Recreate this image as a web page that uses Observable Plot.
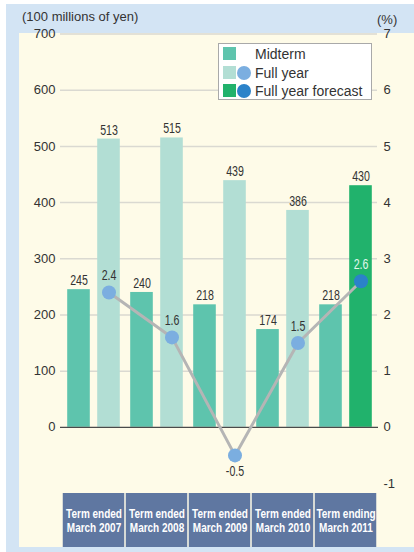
<!DOCTYPE html>
<html>
<head>
<meta charset="utf-8">
<script src="https://cdn.jsdelivr.net/npm/d3@7"></script>
<script src="https://cdn.jsdelivr.net/npm/@observablehq/plot@0.6"></script>
<style>
  body { margin: 0; background: #fff; }
  #root { position: relative; width: 414px; height: 552px; overflow: hidden; font-family: "Liberation Sans", Arial, sans-serif; color: #333; }
  .abs { position: absolute; }
  .unit { position: absolute; font-size: 13px; line-height: 13px; white-space: nowrap; }
  #legend { position: absolute; left: 218px; top: 43px; width: 152px; height: 55px; background: #fff; border: 1px solid #a9a9a9; }
  .row { position: absolute; left: 0; height: 18px; width: 150px; }
  .sw { position: absolute; left: 4px; top: 2px; width: 13px; height: 13px; }
  .dotsw { position: absolute; left: 18px; top: 2px; width: 14px; height: 14px; border-radius: 50%; }
  .lab { position: absolute; left: 36px; top: 0; font-size: 14px; line-height: 18px; white-space: nowrap; color: #333; }
</style>
</head>
<body>
<div id="root">
  <div class="abs" style="left:6px;top:4px;width:408px;height:548px;background:#d3e4f4"></div>
  <div class="abs" style="left:19px;top:33px;width:395px;height:514px;background:#fefbe8"></div>
  <div class="unit" style="left:22px;top:10px">(100 millions of yen)</div>
  <div class="unit" style="left:377px;top:13px">(%)</div>
  <div id="chart" class="abs" style="left:0;top:0"></div>
  <div id="terms" class="abs" style="left:0;top:493px"></div>
  <div id="legend"></div>
</div>
<script>
// Fiscal terms shown along the bottom
const terms = [
  "Term ended\nMarch 2007",
  "Term ended\nMarch 2008",
  "Term ended\nMarch 2009",
  "Term ended\nMarch 2010",
  "Term ending\nMarch 2011"
];
// Net sales, 100 millions of yen
const midterm = [245, 240, 218, 174, 218];
const fullYear = [513, 515, 439, 386, 430];
// The last term's full-year figures are a forecast
const isForecast = [false, false, false, false, true];
// Ratio, %
const rate = [2.4, 1.6, -0.5, 1.5, 2.6];
// Axis ticks
const yenTicks = [0, 100, 200, 300, 400, 500, 600, 700];
const pctTicks = [-1, 0, 1, 2, 3, 4, 5, 6, 7];

const colors = {
  midterm: "#5ec4ad",
  full: "#b2ded4",
  forecast: "#21b26c",
  dot: "#7baee0",
  dotForecast: "#2b82c9",
  line: "#b5b5b5",
  box: "#5f77a1"
};

// The % axis shares the yen scale: 1% is drawn as 100 units
const PCT = 100;

const rows = terms.map((term, i) => ({
  term,
  midterm: midterm[i],
  full: fullYear[i],
  forecast: isForecast[i],
  rate: rate[i]
}));

const W = 414, left = 61, right = 36;
const bw = (W - left - right) / terms.length;
const barW = 23, off = 15;
const sans = "'Liberation Sans', Arial, sans-serif";
const valSize = 14;

// Squeeze text horizontally about its own centre (condensed lettering)
function condense(svg, selector, factor) {
  d3.select(svg).selectAll(selector).each(function () {
    const b = this.getBBox();
    const cx = b.x + b.width / 2;
    const t = this.getAttribute("transform") || "";
    this.setAttribute("transform", `${t} translate(${cx},0) scale(${factor},1) translate(${-cx},0)`);
  });
}

const chart = Plot.plot({
  width: W,
  height: 493,
  marginLeft: left,
  marginRight: right,
  marginTop: 33.5,
  marginBottom: 10,
  x: { domain: terms, padding: 0, axis: null },
  y: { domain: [-1 * PCT, 700], axis: null },
  color: { type: "identity" },
  style: { background: "transparent", color: "#333", fontFamily: sans },
  marks: [
    Plot.ruleY(yenTicks.filter(v => v > 0), { stroke: "#dad9d1", strokeWidth: 1.5, insetLeft: -1, insetRight: 1 }),
    Plot.barY(rows, {
      x: "term", y: "midterm", fill: colors.midterm,
      insetLeft: bw / 2 - off - barW / 2, insetRight: bw / 2 + off - barW / 2
    }),
    Plot.barY(rows, {
      x: "term", y: "full", fill: d => d.forecast ? colors.forecast : colors.full,
      insetLeft: bw / 2 + off - barW / 2, insetRight: bw / 2 - off - barW / 2
    }),
    Plot.ruleY([0], { stroke: "#4a4a4a", strokeWidth: 1.2, insetLeft: -1, insetRight: 0 }),
    Plot.axisY({ anchor: "left", ticks: yenTicks, tickSize: 0, tickPadding: 6, fontSize: 13 }),
    Plot.axisY({
      anchor: "right", ticks: pctTicks.map(v => v * PCT), tickFormat: v => String(v / PCT),
      tickSize: 0, tickPadding: 5, fontSize: 13
    }),
    Plot.text(rows, { x: "term", y: "midterm", text: d => String(d.midterm), dx: -off, dy: -9, fontSize: valSize, fill: "#333", className: "val" }),
    Plot.text(rows, { x: "term", y: "full", text: d => String(d.full), dx: off, dy: -9, fontSize: valSize, fill: "#333", className: "val" }),
    Plot.line(rows, { x: "term", y: d => d.rate * PCT, dx: off, stroke: colors.line, strokeWidth: 3 }),
    Plot.dot(rows, { x: "term", y: d => d.rate * PCT, dx: off, r: 7, fill: d => d.forecast ? colors.dotForecast : colors.dot }),
    Plot.text(rows.filter(d => d.rate >= 0), {
      x: "term", y: d => d.rate * PCT, text: d => d.rate.toFixed(1), dx: off, dy: -17,
      fontSize: valSize, fill: d => d.forecast ? "#e3f7ec" : "#333", className: "val"
    }),
    Plot.text(rows.filter(d => d.rate < 0), {
      x: "term", y: d => d.rate * PCT, text: d => d.rate.toFixed(1), dx: off, dy: 16,
      fontSize: valSize, fill: "#333", className: "val"
    })
  ]
});
document.getElementById("chart").appendChild(chart);
condense(chart, "g.val text", 0.76);

// Term name boxes under the bars
const termBoxes = Plot.plot({
  width: W,
  height: 54,
  marginLeft: left,
  marginRight: right,
  marginTop: 0,
  marginBottom: 0,
  x: { domain: terms, padding: 0, axis: null },
  style: { background: "transparent", fontFamily: sans },
  marks: [
    Plot.cell(terms, { x: d => d, fill: colors.box, insetLeft: 0.75, insetRight: 0.75 }),
    Plot.text(terms, {
      x: d => d, text: d => d, frameAnchor: "middle", fill: "#fff",
      fontSize: 12.5, fontWeight: "bold", lineHeight: 1.17, className: "term"
    })
  ]
});
document.getElementById("terms").appendChild(termBoxes);
condense(termBoxes, "g.term text", 0.8);

// Legend
const legendItems = [
  { label: "Midterm", square: colors.midterm, dot: null },
  { label: "Full year", square: colors.full, dot: colors.dot },
  { label: "Full year forecast", square: colors.forecast, dot: colors.dotForecast }
];
const legend = d3.select("#legend");
legendItems.forEach((item, i) => {
  const row = legend.append("div").attr("class", "row").style("top", `${1 + i * 18.5}px`);
  row.append("div").attr("class", "sw").style("background", item.square);
  if (item.dot) row.append("div").attr("class", "dotsw").style("background", item.dot);
  row.append("div").attr("class", "lab").text(item.label);
});
</script>
</body>
</html>
